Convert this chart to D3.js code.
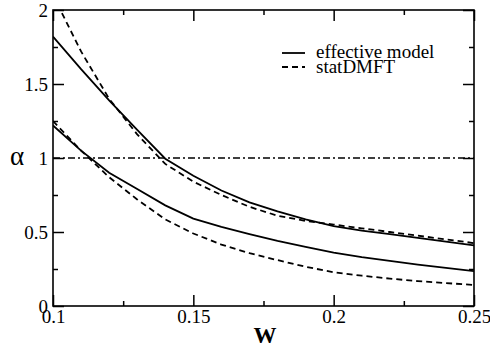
<!DOCTYPE html>
<html><head><meta charset="utf-8">
<script src="https://cdn.jsdelivr.net/npm/d3@7"></script>
<style>
html body svg#c text, html body svg#c g text, html body svg#c g g text{font-family:'Liberation Serif' !important;}
</style>
</head>
<body style="margin:0;background:#fff">
<svg id="c" width="490" height="351"></svg>
<script>
const W = [0.1,0.11,0.12,0.13,0.14,0.15,0.16,0.17,0.18,0.19,0.2,0.21,0.22,0.23,0.24,0.25];
const effUpper = [1.82,1.60,1.39,1.19,0.995,0.88,0.78,0.70,0.64,0.585,0.54,0.51,0.485,0.46,0.435,0.41];
const dmftUpper = [2.10,1.72,1.40,1.16,0.96,0.84,0.75,0.67,0.61,0.575,0.55,0.525,0.50,0.475,0.45,0.425];
const effLower = [1.22,1.05,0.90,0.79,0.68,0.59,0.535,0.486,0.44,0.40,0.36,0.33,0.305,0.28,0.258,0.236];
const dmftLower = [1.25,1.05,0.87,0.72,0.585,0.49,0.415,0.357,0.31,0.265,0.228,0.205,0.185,0.168,0.155,0.142];
const xMajor = [0.1,0.15,0.2,0.25];
const xMinor = [0.125,0.175,0.225];
const yMajor = [0,0.5,1,1.5,2];
const yMinor = [0.25,0.75,1.25,1.75];
const legendLabels = ["effective model","statDMFT"];

const FONT = "Liberation Serif";
const TSTYLE = size => `font-family:'Liberation Serif' !important;font-size:${size}px`;
const svg = d3.select("#c");
const m = {l:53, r:474, t:10, b:306};
const x = d3.scaleLinear().domain([0.1,0.25]).range([m.l,m.r]);
const y = d3.scaleLinear().domain([0,2]).range([m.b,m.t]);

svg.append("defs").append("clipPath").attr("id","clip")
  .append("rect").attr("x",m.l).attr("y",m.t).attr("width",m.r-m.l).attr("height",m.b-m.t);

const fmt = d => d3.format("")(d);
function styleAxis(g){
  g.attr("font-family",FONT).attr("font-size",19);
  g.select(".domain").remove();
  g.selectAll("line").attr("stroke","#000").attr("stroke-width",1.5);
  g.selectAll("text").attr("font-family",FONT).attr("fill","#000").attr("style",TSTYLE(19));
}
svg.append("g").attr("transform",`translate(0,${m.b})`)
  .call(d3.axisBottom(x).tickValues(xMajor).tickSize(-11).tickPadding(3).tickFormat(fmt)).call(styleAxis);
svg.append("g").attr("transform",`translate(0,${m.b})`)
  .call(d3.axisBottom(x).tickValues(xMinor).tickSize(-5).tickFormat("")).call(styleAxis);
svg.append("g").attr("transform",`translate(0,${m.t})`)
  .call(d3.axisTop(x).tickValues(xMajor).tickSize(-11).tickFormat("")).call(styleAxis);
svg.append("g").attr("transform",`translate(0,${m.t})`)
  .call(d3.axisTop(x).tickValues(xMinor).tickSize(-5).tickFormat("")).call(styleAxis);
svg.append("g").attr("transform",`translate(${m.l},0)`)
  .call(d3.axisLeft(y).tickValues(yMajor).tickSize(-11).tickPadding(5).tickFormat(fmt)).call(styleAxis);
svg.append("g").attr("transform",`translate(${m.l},0)`)
  .call(d3.axisLeft(y).tickValues(yMinor).tickSize(-5).tickFormat("")).call(styleAxis);
svg.append("g").attr("transform",`translate(${m.r},0)`)
  .call(d3.axisRight(y).tickValues(yMajor).tickSize(-11).tickFormat("")).call(styleAxis);
svg.append("g").attr("transform",`translate(${m.r},0)`)
  .call(d3.axisRight(y).tickValues(yMinor).tickSize(-5).tickFormat("")).call(styleAxis);

svg.append("rect").attr("x",m.l).attr("y",m.t).attr("width",m.r-m.l).attr("height",m.b-m.t)
  .attr("fill","none").attr("stroke","#000").attr("stroke-width",1.6);

svg.append("line").attr("x1",x(0.1)).attr("x2",x(0.25)).attr("y1",y(1)).attr("y2",y(1))
  .attr("stroke","#000").attr("stroke-width",1.5).attr("stroke-dasharray","7,3,2,3");

const line = d3.line().x((d,i)=>x(W[i])).y(d=>y(d));
const plot = svg.append("g").attr("clip-path","url(#clip)");
[[effUpper,null],[dmftUpper,"6,4"],[effLower,null],[dmftLower,"6,4"]].forEach(([s,dash])=>{
  plot.append("path").datum(s).attr("d",line).attr("fill","none").attr("stroke","#000")
    .attr("stroke-width",1.8).attr("stroke-dasharray",dash);
});

const lg = svg.append("g");
[[null,53,58],["6,4",67,73]].forEach(([dash,ly,ty],i)=>{
  lg.append("line").attr("x1",282).attr("x2",305).attr("y1",ly).attr("y2",ly)
    .attr("stroke","#000").attr("stroke-width",1.8).attr("stroke-dasharray",dash);
  lg.append("text").attr("x",316).attr("y",ty).attr("font-family",FONT)
    .attr("style",TSTYLE(19)).text(legendLabels[i]);
});

svg.append("text").attr("x",265).attr("y",343).attr("text-anchor","middle").attr("font-family",FONT)
  .attr("style",TSTYLE(23)+";font-weight:bold").text("W");
svg.append("text").attr("x",17).attr("y",165).attr("text-anchor","middle").attr("font-family",FONT)
  .attr("style",TSTYLE(27)).text("α");
</script>
</body></html>
